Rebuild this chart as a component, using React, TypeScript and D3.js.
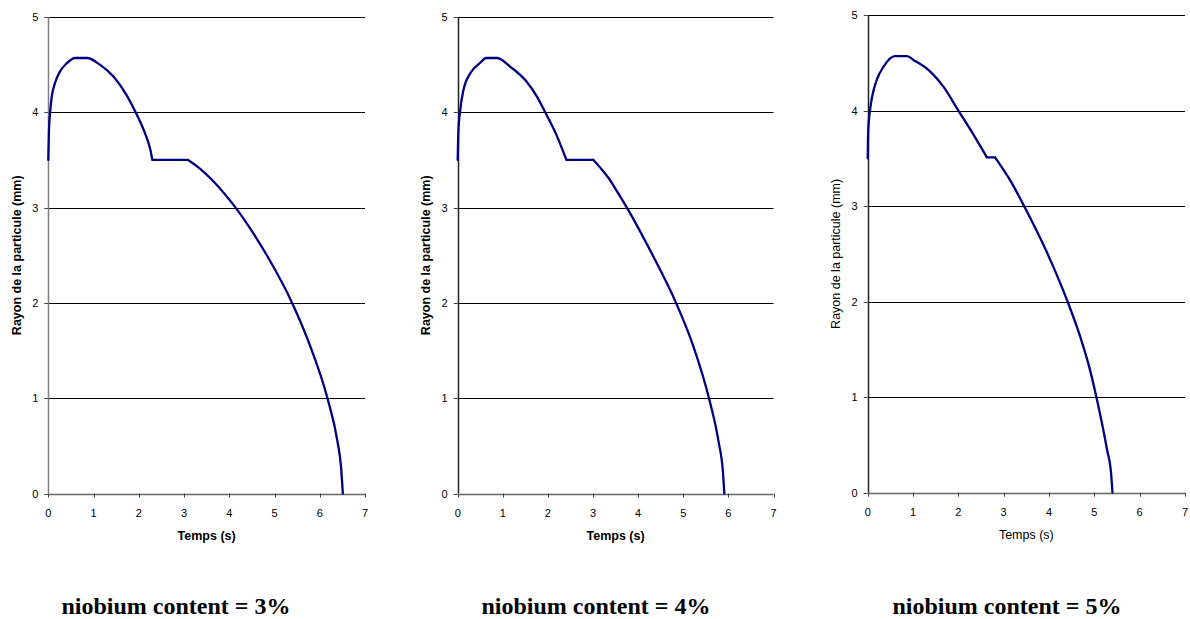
import React from "react";
import * as d3 from "d3";

// ---- Data ----
const xTicks = [0, 1, 2, 3, 4, 5, 6, 7];
const yTicks = [0, 1, 2, 3, 4, 5];

const t3 = [0, 0.015, 0.04, 0.075, 0.15, 0.26, 0.4, 0.59, 0.86, 1.14, 1.45, 1.73, 1.91, 2.06, 2.17, 2.26, 2.3, 3.09, 3.35, 3.6, 3.94, 4.14, 4.45, 4.83, 5.39, 5.81, 6.17, 6.39, 6.47, 6.51];
const r3 = [3.5, 3.81, 4.0, 4.16, 4.31, 4.43, 4.51, 4.57, 4.57, 4.5, 4.37, 4.18, 4.02, 3.87, 3.74, 3.6, 3.5, 3.5, 3.41, 3.3, 3.12, 3.0, 2.79, 2.5, 2.0, 1.52, 1.0, 0.55, 0.28, 0];

const t4 = [0, 0.015, 0.05, 0.13, 0.28, 0.5, 0.63, 0.87, 1.16, 1.53, 1.75, 1.94, 2.2, 2.41, 3.01, 3.14, 3.36, 3.48, 3.75, 4.3, 4.84, 5.22, 5.57, 5.78, 5.88, 5.91];
const r4 = [3.5, 3.8, 4.0, 4.24, 4.41, 4.52, 4.57, 4.57, 4.48, 4.32, 4.17, 4.0, 3.75, 3.5, 3.5, 3.43, 3.3, 3.21, 3.0, 2.52, 2.0, 1.55, 1.0, 0.55, 0.22, 0];

const t5 = [0, 0.012, 0.05, 0.1, 0.2, 0.35, 0.6, 0.87, 1.01, 1.375, 1.67, 2.0, 2.33, 2.63, 2.81, 3.18, 3.45, 3.93, 4.41, 4.69, 4.88, 5.05, 5.28, 5.37, 5.4];
const r5 = [3.5, 3.8, 4.0, 4.15, 4.32, 4.46, 4.57, 4.57, 4.53, 4.41, 4.25, 4.0, 3.75, 3.51, 3.51, 3.24, 3.0, 2.54, 2.0, 1.63, 1.33, 0.99, 0.45, 0.2, 0];

const titles = ["niobium content = 3%", "niobium content = 4%", "niobium content = 5%"];
const xTitle = "Temps (s)";
const yTitle = "Rayon de la particule (mm)";

const series = [
  { t: t3, r: r3 },
  { t: t4, r: r4 },
  { t: t5, r: r5 },
];

// ---- Layout ----
const panels = [
  { x0: 48.3, x1: 365, y0: 493.5, y1: 17, bold: true, yAxisColor: "#808080", yTitleX: 17, titleX: 176 },
  { x0: 457.7, x1: 773.5, y0: 493.5, y1: 17, bold: true, yAxisColor: "#222", yTitleX: 426, titleX: 596 },
  { x0: 867.7, x1: 1185, y0: 492.7, y1: 15, bold: false, yAxisColor: "#222", yTitleX: 836, titleX: 1007 },
];

const sans = "'Liberation Sans', Arial, sans-serif";
const serif = "'Liberation Serif', 'Times New Roman', serif";

function Panel({ idx }: { idx: number }) {
  const p = panels[idx];
  const s = series[idx];
  const x = d3.scaleLinear().domain([0, 7]).range([p.x0, p.x1]);
  const y = d3.scaleLinear().domain([0, 5]).range([p.y0, p.y1]);
  const pts: [number, number][] = s.t.map((t, i) => [t, s.r[i]]);
  // split at the flat plateau after the peak so the corners stay sharp
  let fi = -1;
  for (let i = pts.length - 2; i > 0; i--) {
    if (pts[i][1] === pts[i + 1][1]) {
      fi = i;
      break;
    }
  }
  const pieces: [number, number][][] =
    fi > 0 ? [pts.slice(0, fi + 1), pts.slice(fi, fi + 2), pts.slice(fi + 1)] : [pts];
  const line = d3
    .line<[number, number]>()
    .x((d) => x(d[0]))
    .y((d) => y(d[1]))
    .curve(d3.curveMonotoneX);
  const d = pieces.map((pc) => line(pc) || "").join("");
  const fw = p.bold ? "bold" : "normal";
  const cx = (p.x0 + p.x1) / 2;
  const cy = (p.y0 + p.y1) / 2;
  return (
    <g>
      {yTicks
        .filter((v) => v > 0)
        .map((v) => (
          <line key={"g" + v} x1={p.x0} x2={p.x1} y1={Math.round(y(v)) + 0.5} y2={Math.round(y(v)) + 0.5} stroke="#000" strokeWidth={1} />
        ))}
      <line x1={Math.round(p.x0) + 0.5} x2={Math.round(p.x0) + 0.5} y1={y(5)} y2={y(0)} stroke={p.yAxisColor} strokeWidth={1.5} />
      {yTicks.map((v) => (
        <g key={"yt" + v}>
          <line x1={p.x0 - 4} x2={p.x0} y1={Math.round(y(v)) + 0.5} y2={Math.round(y(v)) + 0.5} stroke="#444" />
          <text x={p.x0 - 10} y={y(v) + 4} textAnchor="end" fontFamily={sans} fontSize={11} fill="#000">
            {v}
          </text>
        </g>
      ))}
      <line x1={p.x0} x2={p.x1} y1={Math.round(y(0)) + 0.5} y2={Math.round(y(0)) + 0.5} stroke="#666" strokeWidth={1.5} />
      {xTicks.map((v) => (
        <g key={"xt" + v}>
          <line x1={Math.round(x(v)) + 0.5} x2={Math.round(x(v)) + 0.5} y1={y(0)} y2={y(0) + 4} stroke="#444" />
          <text x={x(v)} y={y(0) + 23} textAnchor="middle" fontFamily={sans} fontSize={11} fill="#000">
            {v}
          </text>
        </g>
      ))}
      <path d={d} fill="none" stroke="#000080" strokeWidth={2.3} strokeLinejoin="round" strokeLinecap="round" />
      <text x={cx} y={y(0) + 46} textAnchor="middle" fontFamily={sans} fontSize={12.5} fontWeight={fw} fill="#000">
        {xTitle}
      </text>
      <text
        transform={`translate(${p.yTitleX + 4},${cy}) rotate(-90)`}
        textAnchor="middle"
        fontFamily={sans}
        fontSize={12.5}
        fontWeight={fw}
        fill="#000"
      >
        {yTitle}
      </text>
      <text x={p.titleX} y={614} textAnchor="middle" fontFamily={serif} fontSize={24} fontWeight="bold" fill="#000">
        {titles[idx]}
      </text>
    </g>
  );
}

export default function App() {
  return (
    <svg width={1190} height={619} style={{ position: "absolute", left: 0, top: 0, background: "#fff" }}>
      <rect width={1190} height={619} fill="#fff" />
      {panels.map((_, i) => (
        <Panel key={i} idx={i} />
      ))}
    </svg>
  );
}
